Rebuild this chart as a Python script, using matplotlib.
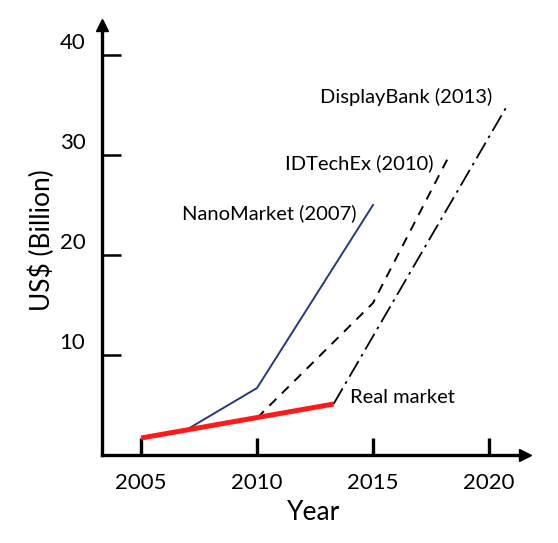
import matplotlib
matplotlib.use('Agg')
import matplotlib.pyplot as plt

plt.rcParams['font.family'] = ['Lato', 'DejaVu Sans']

# forecasts and real market, US$ billion
real_years = [2005, 2013.3]
real_vals = [1.7, 5.1]
nano_years = [2006.8, 2010, 2015]
nano_vals = [2.3, 6.7, 25]
idtech_years = [2010, 2015, 2018.3]
idtech_vals = [3.7, 15.2, 30]
dbank_years = [2013.3, 2020.8]
dbank_vals = [5.1, 35]

xticks = [2005, 2010, 2015, 2020]
yticks = [10, 20, 30, 40]

fig = plt.figure(figsize=(5.58, 5.43), dpi=100)
ax = fig.add_axes([0.1828, 0.162, 0.758, 0.792])

ax.plot(nano_years, nano_vals, color='#27397a', lw=1.4)
ax.plot(idtech_years, idtech_vals, color='black', lw=1.4, ls=(0, (5, 4)))
ax.plot(dbank_years, dbank_vals, color='black', lw=1.3, ls=(0, (10, 3, 1.5, 3)))
ax.plot(real_years, real_vals, color='#ff1a1a', lw=3.6, solid_capstyle='butt')

ax.set_xlim(2003.32, 2021.55)
ax.set_ylim(0, 43)

for s in ['top', 'right']:
    ax.spines[s].set_visible(False)
for s in ['left', 'bottom']:
    ax.spines[s].set_linewidth(2.4)

ax.plot(1, 0, '>k', ms=8, transform=ax.transAxes, clip_on=False)
ax.plot(0, 1, '^k', ms=8, transform=ax.transAxes, clip_on=False)

ax.set_xticks(xticks)
ax.set_xticklabels([str(t) for t in xticks], fontsize=16)
ax.tick_params(axis='x', direction='in', length=12, width=2.4, pad=13)
ax.set_yticks(yticks)
ax.set_yticklabels([])
ax.tick_params(axis='y', direction='in', length=14, width=1.8)
for t in yticks:
    ax.text(2002.6, t + 0.2, str(t), ha='right', va='bottom', fontsize=16)

ax.set_xlabel('Year', fontsize=19, labelpad=5)
ax.set_ylabel('US$ (Billion)', fontsize=19, labelpad=30)

ax.text(2020.13, 35.2, 'DisplayBank (2013)', ha='right', va='baseline', fontsize=14.5)
ax.text(2017.59, 28.6, 'IDTechEx (2010)', ha='right', va='baseline', fontsize=14.5)
ax.text(2014.31, 23.6, 'NanoMarket (2007)', ha='right', va='baseline', fontsize=14.5)
ax.text(2014.0, 5.2, 'Real market', ha='left', va='baseline', fontsize=14.5)

fig.savefig('out.png', dpi=100)
